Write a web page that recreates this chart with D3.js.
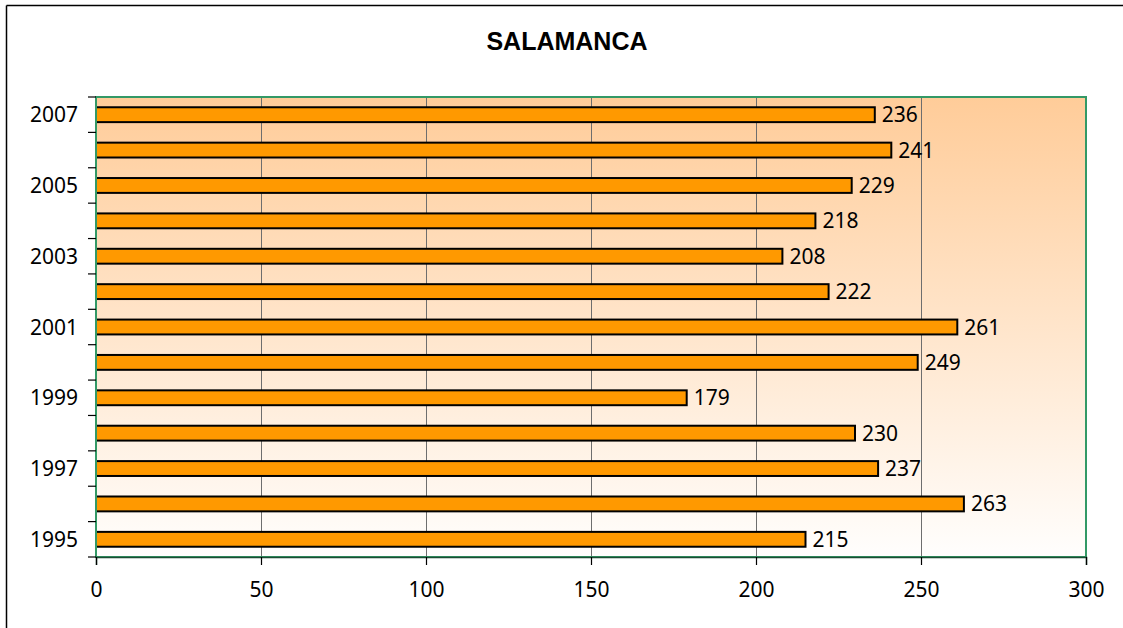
<!DOCTYPE html>
<html>
<head>
<meta charset="utf-8">
<script src="https://cdn.jsdelivr.net/npm/d3@7"></script>
<style>
  html, body { margin: 0; padding: 0; background: #fff; overflow: hidden; }
  svg { display: block; }
</style>
</head>
<body>
<svg id="chart" width="1123" height="628"></svg>
<script>
// Yearly figures for Salamanca
const years = [1995, 1996, 1997, 1998, 1999, 2000, 2001, 2002, 2003, 2004, 2005, 2006, 2007];
const values = [215, 263, 237, 230, 179, 249, 261, 222, 208, 218, 229, 241, 236];
const yearLabels = ["1995", "1997", "1999", "2001", "2003", "2005", "2007"];
const xTicks = [0, 50, 100, 150, 200, 250, 300];
const title = "SALAMANCA";

const svg = d3.select("#chart");
const W = 1123, H = 628;
const plot = { left: 96, right: 1086, top: 97, bottom: 557 };
const font = "'Noto Sans', 'Open Sans', sans-serif";
const fontSize = 21;

// Outer chart frame (top and left edges fall inside the page)
svg.append("line")
  .attr("x1", 6.5).attr("x2", W).attr("y1", 5.5).attr("y2", 5.5)
  .attr("stroke", "#000").attr("stroke-width", 1.5);
svg.append("line")
  .attr("x1", 6.5).attr("x2", 6.5).attr("y1", 5.5).attr("y2", H)
  .attr("stroke", "#000").attr("stroke-width", 1.5);

// Title
svg.append("text")
  .attr("x", 567).attr("y", 50)
  .attr("text-anchor", "middle")
  .attr("font-family", "'Liberation Sans', Arial, sans-serif")
  .attr("font-weight", "bold")
  .attr("font-size", 25)
  .attr("fill", "#000")
  .text(title);

// Plot background gradient (peach to white, top to bottom)
const defs = svg.append("defs");
const grad = defs.append("linearGradient")
  .attr("id", "plotBg").attr("x1", 0).attr("y1", 0).attr("x2", 0).attr("y2", 1);
grad.append("stop").attr("offset", "0%").attr("stop-color", "#FFCC99");
grad.append("stop").attr("offset", "100%").attr("stop-color", "#FFFEFD");

const x = d3.scaleLinear().domain([0, 300]).range([plot.left, plot.right]);
const y = d3.scaleBand()
  .domain(years.slice().reverse())
  .range([plot.top, plot.bottom])
  .paddingInner(0.58).paddingOuter(0.29);

svg.append("rect")
  .attr("x", plot.left).attr("y", plot.top)
  .attr("width", plot.right - plot.left).attr("height", plot.bottom - plot.top)
  .attr("fill", "url(#plotBg)");

// Vertical gridlines
svg.append("g")
  .selectAll("line")
  .data(xTicks.filter(t => t > 0 && t < 300))
  .join("line")
  .attr("x1", d => Math.round(x(d)) + 0.5).attr("x2", d => Math.round(x(d)) + 0.5)
  .attr("y1", plot.top).attr("y2", plot.bottom)
  .attr("stroke", "#6e6e6e").attr("stroke-width", 1);

const rows = years.map((yr, i) => ({ yr, v: values[i] }));

// Bars
svg.append("g")
  .selectAll("rect")
  .data(rows)
  .join("rect")
  .attr("x", x(0))
  .attr("y", d => y(d.yr))
  .attr("width", d => x(d.v) - x(0))
  .attr("height", y.bandwidth())
  .attr("fill", "#FF9900")
  .attr("stroke", "#000").attr("stroke-width", 2);

// Value labels
svg.append("g")
  .selectAll("text")
  .data(rows)
  .join("text")
  .attr("x", d => x(d.v) + 7)
  .attr("y", d => y(d.yr) + y.bandwidth() / 2)
  .attr("dy", "0.36em")
  .attr("font-family", font).attr("font-size", fontSize)
  .attr("fill", "#000")
  .text(d => d.v);

// Plot border
svg.append("rect")
  .attr("x", plot.left).attr("y", plot.top)
  .attr("width", plot.right - plot.left).attr("height", plot.bottom - plot.top)
  .attr("fill", "none").attr("stroke", "#339966").attr("stroke-width", 2);

// Category axis: ticks at band boundaries, labels every other year
const boundaries = d3.range(years.length + 1).map(i => plot.top + i * (plot.bottom - plot.top) / years.length);
const yAxis = svg.append("g");
yAxis.selectAll("line")
  .data(boundaries)
  .join("line")
  .attr("x1", plot.left - 8).attr("x2", plot.left)
  .attr("y1", d => d).attr("y2", d => d)
  .attr("stroke", "#000").attr("stroke-width", 1.2);
yAxis.selectAll("text")
  .data(years.filter(yr => yearLabels.includes(String(yr))))
  .join("text")
  .attr("x", 78)
  .attr("y", d => y(d) + y.bandwidth() / 2)
  .attr("dy", "0.36em")
  .attr("text-anchor", "end")
  .attr("font-family", font).attr("font-size", fontSize)
  .attr("fill", "#000")
  .text(d => String(d));

// Value axis
const xAxis = d3.axisBottom(x).tickValues(xTicks).tickSize(8).tickPadding(17).tickFormat(d3.format("d"));
const gx = svg.append("g")
  .attr("transform", `translate(0,${plot.bottom})`)
  .call(xAxis);
gx.select(".domain").attr("stroke", "#1a4d33").attr("stroke-width", 1.5);
gx.selectAll(".tick line").attr("stroke", "#000").attr("stroke-width", 1.2);
gx.selectAll(".tick text")
  .attr("font-family", font).attr("font-size", fontSize).attr("fill", "#000");
</script>
</body>
</html>
